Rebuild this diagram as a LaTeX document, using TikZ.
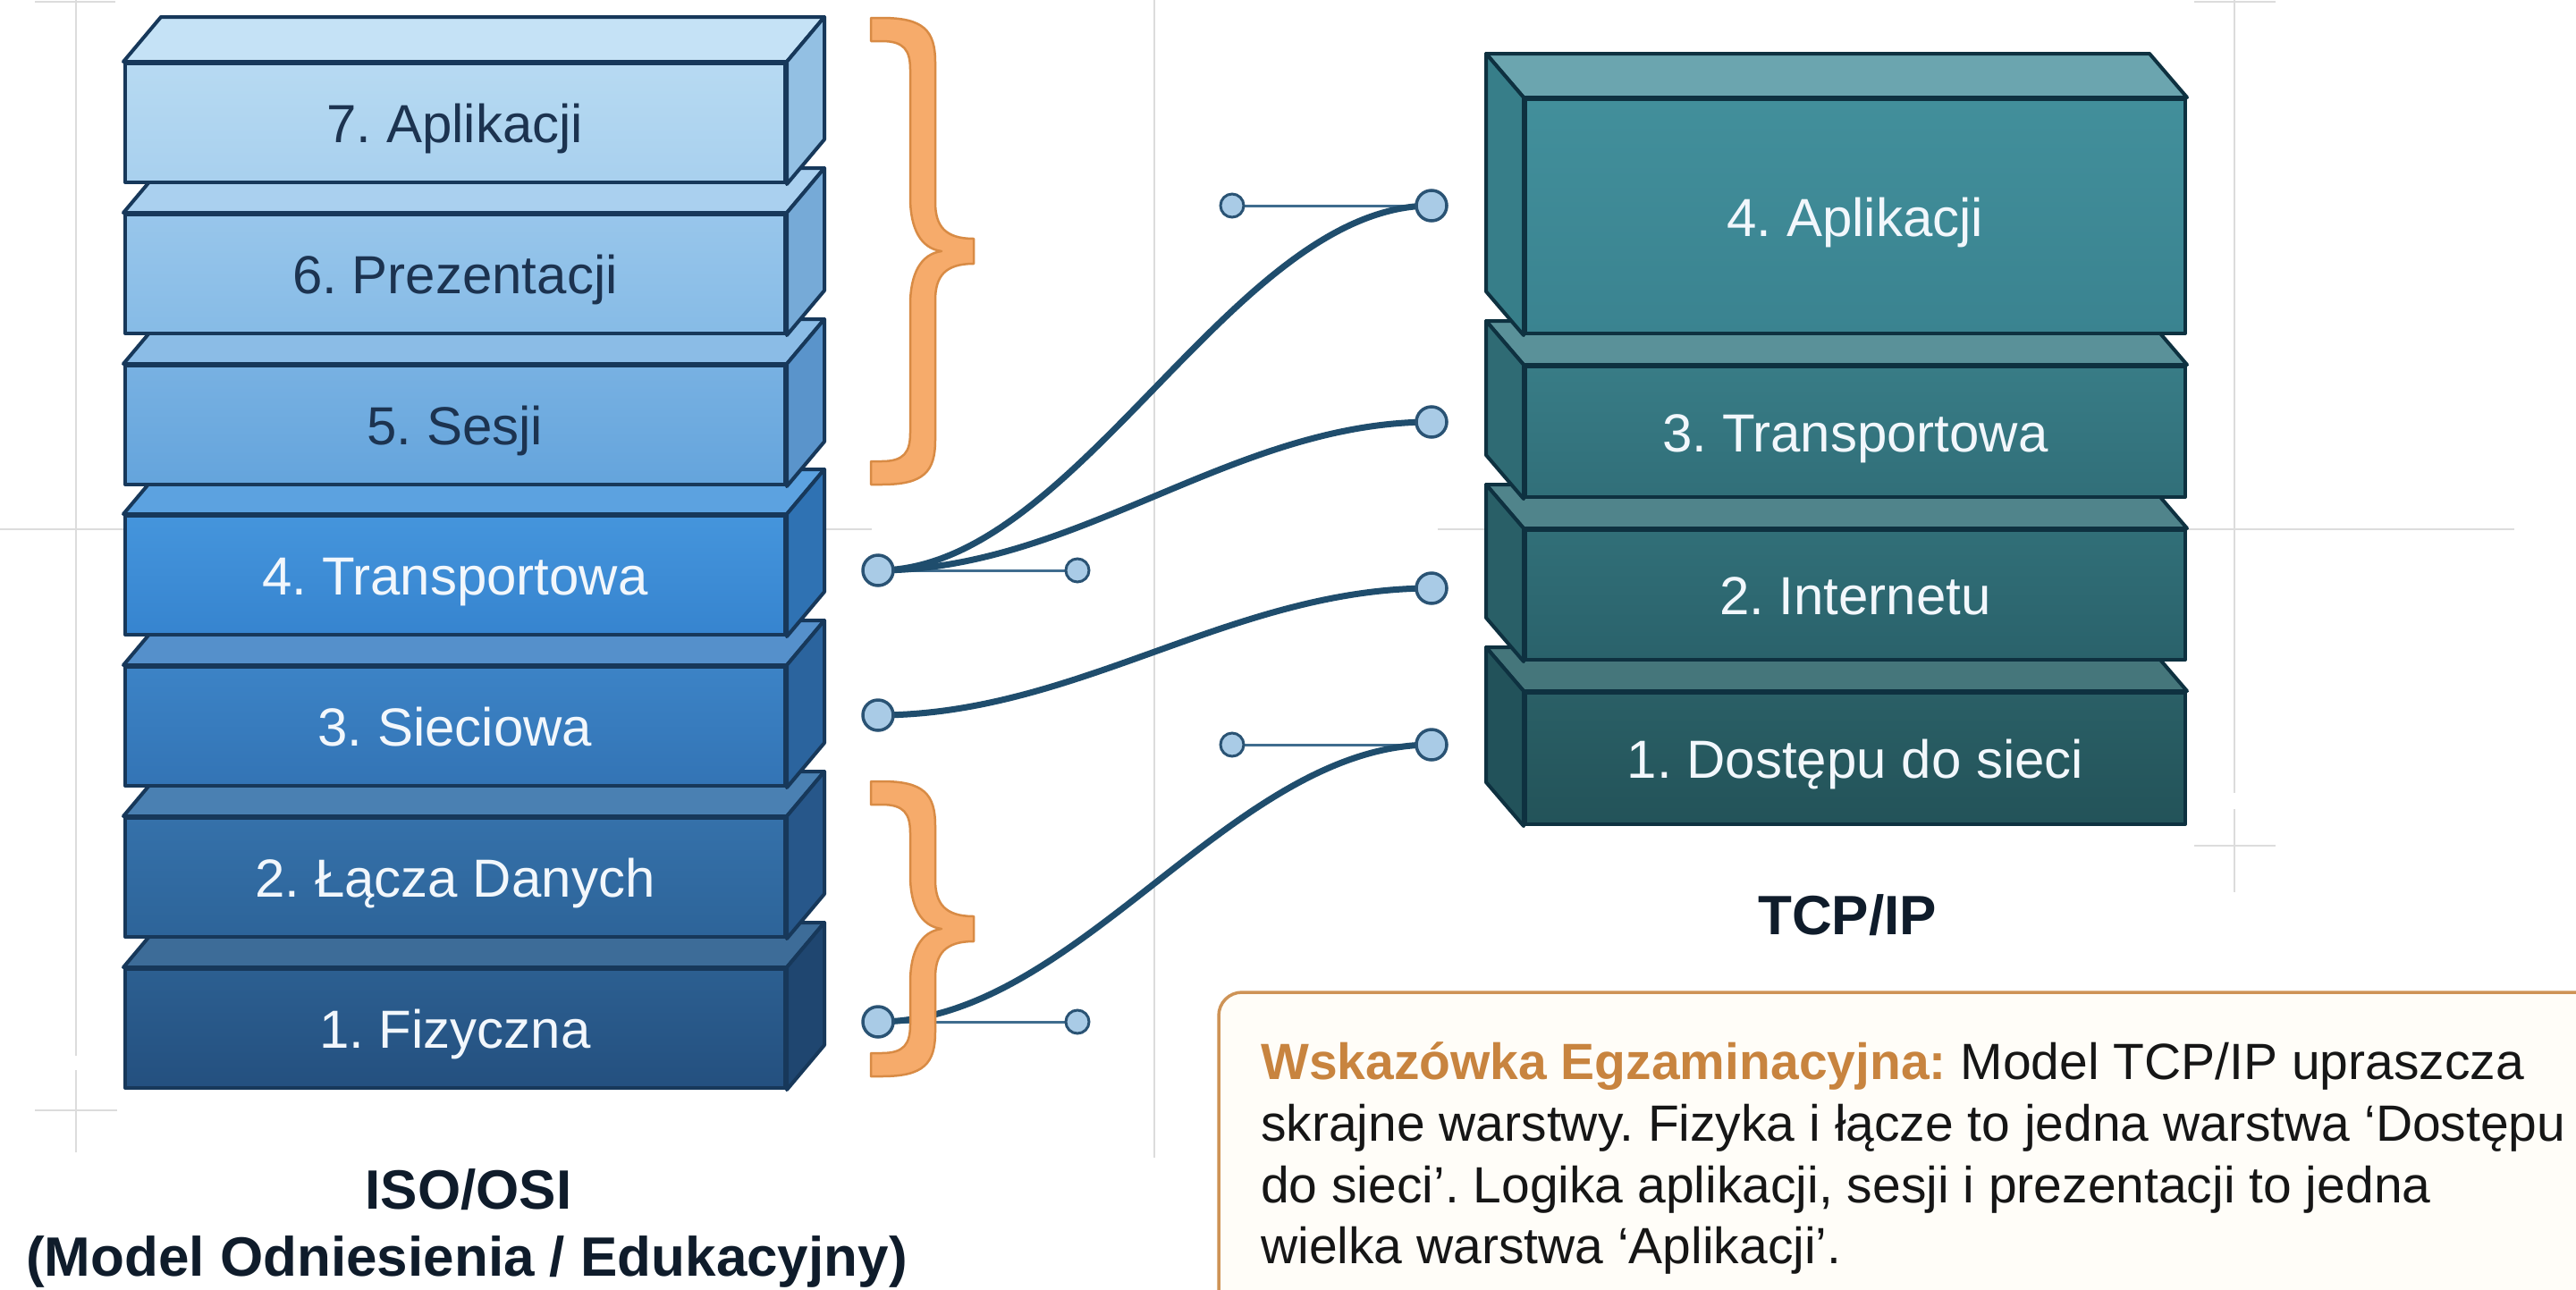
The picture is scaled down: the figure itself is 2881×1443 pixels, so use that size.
\documentclass[tikz,border=0pt]{standalone}
\usepackage{fontspec}
\setmainfont{Liberation Sans}

% palette
\definecolor{guideGray}{HTML}{DCDCDC}
\definecolor{osiEdge}{HTML}{17385A}
\definecolor{tcpEdge}{HTML}{0E3140}
\definecolor{darkLabel}{HTML}{1C3350}
\definecolor{lightLabel}{HTML}{F2F7FC}
\definecolor{titleInk}{HTML}{0F1C2B}
\definecolor{wire}{HTML}{1F4D6D}
\definecolor{dotFill}{HTML}{A9CBE6}
\definecolor{dotEdge}{HTML}{2A5374}
\definecolor{handleInk}{HTML}{3F6C8E}
\definecolor{braceFill}{HTML}{F6AB6B}
\definecolor{braceEdge}{HTML}{D88B45}
\definecolor{noteEdge}{HTML}{CE9356}
\definecolor{noteFill}{HTML}{FFFDF8}
\definecolor{noteHead}{HTML}{C8843F}
\definecolor{noteInk}{HTML}{161616}

\tikzset{
  guide/.style={draw=guideGray, line width=2.5pt},
  osiface/.style={draw=osiEdge, line width=4pt, line join=round},
  tcpface/.style={draw=tcpEdge, line width=4pt, line join=round},
  layerlabel/.style={inner sep=0pt, font=\fontsize{60}{72}\selectfont},
  title/.style={inner sep=0pt, text=titleInk, font=\fontsize{62}{74}\selectfont\bfseries},
  notetext/.style={inner sep=0pt, text=noteInk, font=\fontsize{57}{68}\selectfont},
  wireline/.style={draw=wire, line width=7pt, line cap=round},
  handleline/.style={draw=handleInk, line width=3pt},
  bigdot/.style={circle, draw=dotEdge, fill=dotFill, line width=3.5pt, minimum size=34pt, inner sep=0pt},
  smalldot/.style={circle, draw=dotEdge, fill=dotFill, line width=3pt, minimum size=26pt, inner sep=0pt},
  bracestyle/.style={fill=braceFill, draw=braceEdge, line width=2.5pt, line join=round},
}

% one ISO/OSI layer: name, front top y, front top colour, front bottom colour,
% top face colour, side face colour (all HTML), label colour, label
\newcommand{\osiLayer}[8]{%
  \definecolor{#1-ft}{HTML}{#3}\definecolor{#1-fb}{HTML}{#4}%
  \definecolor{#1-tp}{HTML}{#5}\definecolor{#1-sd}{HTML}{#6}%
  \node[osiface, minimum width=738pt, minimum height=133pt, inner sep=0pt,
        top color=#1-ft, bottom color=#1-fb] (#1) at (509,#2+66.5) {};
  \filldraw[osiface, fill=#1-tp] (#1.north west) -- ++(42,-50)
      -- ([shift={(42,-50)}]#1.north east) -- (#1.north east) -- cycle;
  \filldraw[osiface, fill=#1-sd] (#1.north east) -- ++(42,-50)
      -- ([shift={(42,-50)}]#1.south east) -- (#1.south east) -- cycle;
  \node[layerlabel, text=#7, anchor=base] (#1-label) at ([yshift=-22pt]#1.center) {#8};
}

% one TCP/IP layer: name, front top y, front height, front top colour,
% front bottom colour, top face colour, side face colour (all HTML), label
\newcommand{\tcpLayer}[8]{%
  \definecolor{#1-ft}{HTML}{#4}\definecolor{#1-fb}{HTML}{#5}%
  \definecolor{#1-tp}{HTML}{#6}\definecolor{#1-sd}{HTML}{#7}%
  \node[tcpface, minimum width=738pt, minimum height=#3pt, inner sep=0pt,
        top color=#1-ft, bottom color=#1-fb] (#1) at (2075,#2+#3/2) {};
  \filldraw[tcpface, fill=#1-tp] (#1.north west) -- ++(-42,-49)
      -- ([shift={(-42,-49)}]#1.north east) -- (#1.north east) -- cycle;
  \filldraw[tcpface, fill=#1-sd] (#1.north west) -- ++(-42,-49)
      -- ([shift={(-42,-49)}]#1.south west) -- (#1.south west) -- cycle;
  \node[layerlabel, text=lightLabel, anchor=base] (#1-label) at ([yshift=-22pt]#1.center) {#8};
}

% curly bracket standing to the right of the stack, from y=#1 to y=#2
\newcommand{\orangeBrace}[2]{%
  \pgfmathsetmacro{\bm}{(#1+#2)/2}%
  \filldraw[bracestyle]
    (974,#1) -- (986,#1)
    .. controls (1033,#1) and (1046,#1+14) .. (1046,#1+50)
    -- (1046,\bm-55)
    .. controls (1046,\bm-28) and (1057,\bm-14) .. (1089,\bm-14)
    -- (1089,\bm+14)
    .. controls (1057,\bm+14) and (1046,\bm+28) .. (1046,\bm+55)
    -- (1046,#2-50)
    .. controls (1046,#2-14) and (1033,#2) .. (986,#2)
    -- (974,#2) -- (974,#2-26) -- (986,#2-26)
    .. controls (1011,#2-26) and (1018,#2-36) .. (1018,#2-58)
    -- (1018,\bm+60)
    .. controls (1018,\bm+25) and (1030,\bm+3) .. (1053,\bm)
    .. controls (1030,\bm-3) and (1018,\bm-25) .. (1018,\bm-60)
    -- (1018,#1+58)
    .. controls (1018,#1+36) and (1011,#1+26) .. (986,#1+26)
    -- (974,#1+26) -- cycle;
}

\begin{document}
\frenchspacing
\begin{tikzpicture}[x=1pt, y=-1pt]
\useasboundingbox (0,0) rectangle (2881,1443);
\clip (0,0) rectangle (2881,1443);
\fill[white] (0,0) rectangle (2881,1443);

% faint layout guides and crop marks
\draw[guide] (85,0) -- (85,1181);
\draw[guide] (85,1197) -- (85,1289);
\draw[guide] (39,2) -- (129,2);
\draw[guide] (39,1242) -- (131,1242);
\draw[guide] (0,592) -- (975,592);
\draw[guide] (1608,592) -- (2812,592);
\draw[guide] (1291,0) -- (1291,1295);
\draw[guide] (2499,0) -- (2499,887);
\draw[guide] (2499,905) -- (2499,998);
\draw[guide] (2454,2) -- (2545,2);
\draw[guide] (2454,946) -- (2545,946);

% ISO/OSI stack, drawn bottom up so upper layers overlap lower ones
\osiLayer{osi1}{1084}{2C5F91}{24507F}{3D6C98}{1F4670}{lightLabel}{1. Fizyczna}
\osiLayer{osi2}{915}{3571AA}{2D6499}{4A80B2}{27578A}{lightLabel}{2. Łącza Danych}
\osiLayer{osi3}{746}{3C83C6}{3374B5}{5590CB}{2B649E}{lightLabel}{3. Sieciowa}
\osiLayer{osi4}{577}{4595DC}{3684CF}{5CA2E0}{2F72B3}{lightLabel}{4. Transportowa}
\osiLayer{osi5}{409}{78B1E2}{64A4DC}{8BBCE6}{5A94CB}{darkLabel}{5. Sesji}
\osiLayer{osi6}{240}{98C6EB}{86BBE6}{AAD0EF}{76AAD7}{darkLabel}{6. Prezentacji}
\osiLayer{osi7}{71}{B7DAF2}{A8D0EE}{C5E2F6}{93C0E3}{darkLabel}{7. Aplikacji}

% TCP/IP stack
\tcpLayer{tcp1}{775}{147}{2A5F66}{235359}{45767B}{22525A}{1. Dostępu do sieci}
\tcpLayer{tcp2}{593}{145}{316F78}{2A626B}{50848B}{295F67}{2. Internetu}
\tcpLayer{tcp3}{410}{146}{387C86}{316F79}{5A9199}{2F6B74}{3. Transportowa}
\tcpLayer{tcp4}{111}{262}{428F9B}{3A8390}{6BA5AF}{377E89}{4. Aplikacji}

% stack titles
\node[title, anchor=base] (osiTitle) at (524,1352) {ISO/OSI};
\node[title, anchor=base] (osiSub) at (522,1427) {(Model Odniesienia / Edukacyjny)};
\node[title, anchor=base] (tcpTitle) at (2066,1045) {TCP/IP};

% connector end points and curve handles
\coordinate (L4) at (982,638);
\coordinate (L3) at (982,800);
\coordinate (L1) at (982,1143);
\coordinate (R4) at (1601,230);
\coordinate (R3) at (1601,472);
\coordinate (R2) at (1601,658);
\coordinate (R1) at (1601,833);
\coordinate (HL4) at (1205,638);
\coordinate (HR4) at (1378,230);
\coordinate (HL1) at (1205,1143);
\coordinate (HR1) at (1378,833);

\draw[handleline] (L4) -- (HL4);
\draw[handleline] (R4) -- (HR4);
\draw[handleline] (L1) -- (HL1);
\draw[handleline] (R1) -- (HR1);

\draw[wireline] (L4) .. controls (1205,638) and (1378,230) .. (R4);
\draw[wireline] (L4) .. controls (1205,638) and (1378,472) .. (R3);
\draw[wireline] (L3) .. controls (1205,800) and (1378,658) .. (R2);
\draw[wireline] (L1) .. controls (1205,1143) and (1378,833) .. (R1);

% brackets grouping the merged layers
\orangeBrace{20}{542}
\orangeBrace{874}{1204}

% end points on top
\node[bigdot] (dL4) at (L4) {};
\node[bigdot] (dL3) at (L3) {};
\node[bigdot] (dL1) at (L1) {};
\node[bigdot] (dR4) at (R4) {};
\node[bigdot] (dR3) at (R3) {};
\node[bigdot] (dR2) at (R2) {};
\node[bigdot] (dR1) at (R1) {};
\node[smalldot] (dHL4) at (HL4) {};
\node[smalldot] (dHR4) at (HR4) {};
\node[smalldot] (dHL1) at (HL1) {};
\node[smalldot] (dHR1) at (HR1) {};

% exam hint panel, running off the lower right edge
\draw[draw=noteEdge, fill=noteFill, line width=3.5pt, rounded corners=26pt]
  (1363,1110) rectangle (2940,1500);
\node[notetext, anchor=base west] (hint1) at (1410,1207)
  {\textcolor{noteHead}{\bfseries Wskazówka Egzaminacyjna:} Model TCP/IP upraszcza};
\node[notetext, anchor=base west] (hint2) at (1410,1276)
  {skrajne warstwy. Fizyka i łącze to jedna warstwa ‘Dostępu};
\node[notetext, anchor=base west] (hint3) at (1410,1345)
  {do sieci’. Logika aplikacji, sesji i prezentacji to jedna};
\node[notetext, anchor=base west] (hint4) at (1410,1413)
  {wielka warstwa ‘Aplikacji’.};
\end{tikzpicture}
\end{document}
